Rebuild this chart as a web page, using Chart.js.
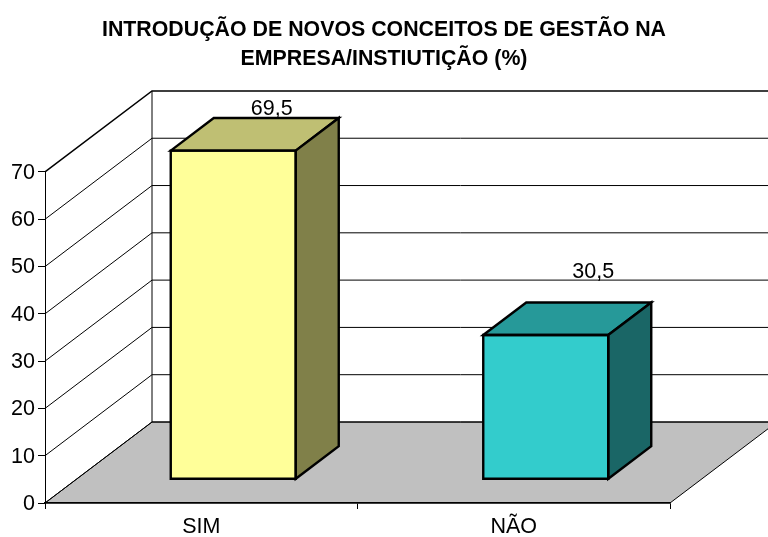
<!DOCTYPE html>
<html><head><meta charset="utf-8">
<style>html,body{margin:0;padding:0;background:#fff;overflow:hidden}canvas{display:block}</style>
<script src="https://cdn.jsdelivr.net/npm/chart.js@4"></script>
</head><body><canvas id="c" width="768" height="537"></canvas>
<script>
const titleLines = ["INTRODUÇÃO DE NOVOS CONCEITOS DE GESTÃO NA", "EMPRESA/INSTIUTIÇÃO (%)"];
const categories = ["SIM", "NÃO"];
const percentValues = [69.5, 30.5];
const frontColors = ["#FFFF99", "#33CCCC"];
const topColors = ["#BFBF73", "#269999"];
const sideColors = ["#808049", "#1A6666"];

// 3D look
const wallDX = 107, wallDY = 81;
const barShiftX = 32, barShiftY = 23.7;
const barDepthX = 43, barDepthY = 32.6;
const labelOffsets = [[38.5, -2.8], [47.5, -24.5]];
const FONT = '"Liberation Sans", Arial, sans-serif';
const LABEL_SIZE = 21.5;

const threeD = {
  id: 'threeD',
  afterLayout(chart) {
    chart.titleBlock.left = 0;
    chart.titleBlock.right = chart.width;
  },
  beforeDraw(chart) {
    const {ctx, chartArea: a, scales: {y}} = chart;
    ctx.save();
    // floor
    ctx.beginPath();
    ctx.moveTo(a.left, a.bottom);
    ctx.lineTo(a.right, a.bottom);
    ctx.lineTo(a.right + wallDX, a.bottom - wallDY);
    ctx.lineTo(a.left + wallDX, a.bottom - wallDY);
    ctx.closePath();
    ctx.fillStyle = '#C0C0C0';
    ctx.fill();
    ctx.strokeStyle = '#000';
    ctx.lineWidth = 1;
    ctx.stroke();
    // wall gridlines
    y.ticks.forEach((t, i) => {
      const p = y.getPixelForValue(t.value);
      ctx.lineWidth = t.value === y.max ? 1.5 : 1;
      ctx.beginPath();
      ctx.moveTo(a.left, p);
      ctx.lineTo(a.left + wallDX, p - wallDY);
      ctx.lineTo(a.right + wallDX, p - wallDY);
      ctx.stroke();
    });
    // back corner
    ctx.lineWidth = 1;
    ctx.beginPath();
    ctx.moveTo(a.left + wallDX, y.getPixelForValue(y.max) - wallDY);
    ctx.lineTo(a.left + wallDX, a.bottom - wallDY);
    ctx.stroke();
    ctx.restore();
  },
  beforeDatasetsDraw(chart) {
    const {ctx} = chart, meta = chart.getDatasetMeta(0);
    // value labels sit behind the bars
    ctx.save();
    ctx.font = LABEL_SIZE + 'px ' + FONT;
    ctx.fillStyle = '#000';
    ctx.textAlign = 'center';
    ctx.textBaseline = 'alphabetic';
    meta.data.forEach((el, i) => {
      const p = el.getProps(['x', 'y'], true);
      ctx.fillText(percentValues[i].toFixed(1).replace('.', ','),
        p.x + barShiftX + labelOffsets[i][0],
        p.y - barShiftY - barDepthY + labelOffsets[i][1]);
    });
    ctx.restore();
    ctx.save();
    ctx.translate(barShiftX, -barShiftY);
  },
  afterDatasetsDraw(chart) {
    const {ctx} = chart, meta = chart.getDatasetMeta(0);
    ctx.restore();
    ctx.save();
    ctx.strokeStyle = '#000';
    ctx.lineWidth = 2.4;
    ctx.lineJoin = 'miter';
    meta.data.forEach((el, i) => {
      const p = el.getProps(['x', 'y', 'base', 'width'], true);
      const l = p.x - p.width / 2 + barShiftX, r = p.x + p.width / 2 + barShiftX;
      const t = p.y - barShiftY, b = p.base - barShiftY;
      const face = (pts, fill) => {
        ctx.beginPath();
        pts.forEach((q, k) => k ? ctx.lineTo(q[0], q[1]) : ctx.moveTo(q[0], q[1]));
        ctx.closePath();
        if (fill) { ctx.fillStyle = fill; ctx.fill(); }
        ctx.stroke();
      };
      face([[l, t], [l + barDepthX, t - barDepthY], [r + barDepthX, t - barDepthY], [r, t]], topColors[i]);
      face([[r, t], [r + barDepthX, t - barDepthY], [r + barDepthX, b - barDepthY], [r, b]], sideColors[i]);
      face([[l, t], [r, t], [r, b], [l, b]], null);
    });
    ctx.restore();
  }
};

new Chart(document.getElementById('c'), {
  type: 'bar',
  data: {
    labels: categories,
    datasets: [{
      data: percentValues,
      backgroundColor: frontColors,
      borderWidth: 0,
      barPercentage: 0.4,
      categoryPercentage: 1,
      clip: false
    }]
  },
  plugins: [threeD],
  options: {
    responsive: false,
    animation: false,
    layout: {padding: {left: 0, right: 98, top: 0, bottom: 0}},
    plugins: {
      legend: {display: false},
      tooltip: {enabled: false},
      title: {
        display: true,
        text: titleLines,
        color: '#000',
        font: {family: FONT, size: 21.35, weight: 'bold', lineHeight: 1.35},
        padding: {top: 16, bottom: 98.3}
      }
    },
    scales: {
      x: {
        afterFit(s) { s.height = 34; },
        grid: {offset: true, drawOnChartArea: false, color: '#000', tickLength: 6},
        border: {color: '#000', width: 1.5},
        ticks: {color: '#000', font: {family: FONT, size: LABEL_SIZE}, padding: 5, maxRotation: 0}
      },
      y: {
        min: 0, max: 70,
        afterFit(s) { s.width = 45; },
        grid: {drawOnChartArea: false, color: '#000', tickLength: 7},
        border: {color: '#000', width: 1},
        ticks: {stepSize: 10, color: '#000', font: {family: FONT, size: LABEL_SIZE}, padding: 3, labelOffset: 1}
      }
    }
  }
});
</script></body></html>
